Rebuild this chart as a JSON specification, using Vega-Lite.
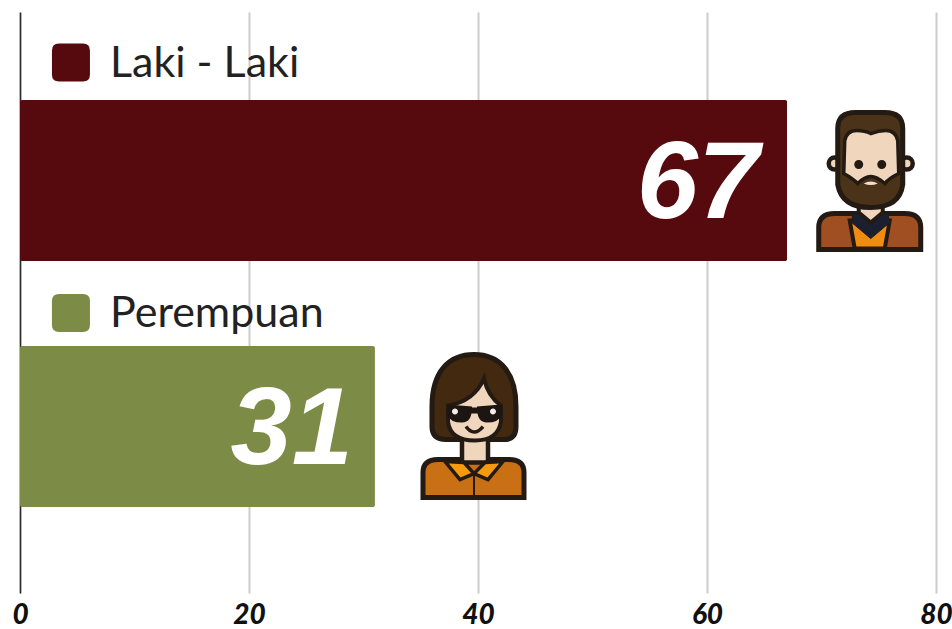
{
"$schema":"https://vega.github.io/schema/vega-lite/v6.json",
"autosize":{"type":"none"},
"padding":{"left":20,"top":12,"right":16,"bottom":36},
"width":916,"height":581,"background":"#ffffff",
"view":{"stroke":null},
"data":{"values":[
{"gender":"Laki - Laki","value":67,"legendX":4.45,"labelX":7.86,"iconX":74.3},
{"gender":"Perempuan","value":31,"legendX":4.45,"labelX":7.86,"iconX":39.65}
]},
"encoding":{"y":{"field":"gender","type":"nominal","title":null,
"scale":{"domain":["Laki - Laki","Perempuan"],"paddingInner":0.3455,"paddingOuter":0.3537,"align":0.506},
"axis":{"labels":false,"ticks":false,"domain":true,"domainColor":"#2a2a2a","domainWidth":1.5,"grid":false,"title":null}}},
"layer":[
{"mark":{"type":"bar","cornerRadius":2},
"encoding":{"x":{"field":"value","type":"quantitative","title":null,
"scale":{"domain":[0,80],"nice":false},
"axis":{"values":[0,20,40,60,80],"grid":true,"gridColor":"#cccccc","gridWidth":2,"domain":false,"ticks":false,"labelFont":"Lato","labelFontSize":28,"labelFontStyle":"italic","labelFontWeight":900,"labelColor":"#111111","labelPadding":8,"labelOverlap":false,"labelFlush":false}},
"color":{"field":"gender","type":"nominal","legend":null,"scale":{"domain":["Laki - Laki","Perempuan"],"range":["#570a0e","#7c8c46"]}}}},
{"transform":[{"filter":"datum.gender==='Laki - Laki'"}],
"layer":[
{"mark":{"type":"text","align":"right","baseline":"middle","dx":-28,"dy":4,"font":"Liberation Sans","fontSize":110,"fontStyle":"italic","fontWeight":"bold","color":"#ffffff"},
"encoding":{"x":{"field":"value","type":"quantitative"},"text":{"field":"value","type":"quantitative"}}},
{"mark":{"type":"point","filled":true,"opacity":1,"size":4,"yOffset":-118,"fill":"#570a0e","shape":"M-19,-12 Q-19,-19 -12,-19 L12,-19 Q19,-19 19,-12 L19,12 Q19,19 12,19 L-12,19 Q-19,19 -19,12 Z"},"encoding":{"x":{"field":"legendX","type":"quantitative"}}},
{"mark":{"type":"text","align":"left","baseline":"middle","dy":-117,"font":"Lato","fontSize":43,"color":"#222222"},"encoding":{"x":{"field":"labelX","type":"quantitative"},"text":{"field":"gender"}}},
{"mark":{"type":"point","filled":true,"opacity":1,"size":4,"fill":"#f0d6bd","stroke":"#231a14","strokeWidth":4.5,"shape":"M-42,-17 A6,6 0 1 1 -30,-17 A6,6 0 1 1 -42,-17 Z M30,-17 A6,6 0 1 1 42,-17 A6,6 0 1 1 30,-17 Z"},"encoding":{"x":{"field":"iconX","type":"quantitative"}}},
{"mark":{"type":"point","filled":true,"opacity":1,"size":4,"fill":"#a04f22","stroke":"#231a14","strokeWidth":5,"shape":"M-52,69 L-52,47 Q-52,33 -36,33 L34,33 Q50,33 50,47 L50,69 Z"},"encoding":{"x":{"field":"iconX","type":"quantitative"}}},
{"mark":{"type":"point","filled":true,"opacity":1,"size":4,"fill":"#f08c10","stroke":"#231a14","strokeWidth":4,"shape":"M-21,40 L19,40 L14,68 L-16,68 Z"},"encoding":{"x":{"field":"iconX","type":"quantitative"}}},
{"mark":{"type":"point","filled":true,"opacity":1,"size":4,"fill":"#1a2030","stroke":"#231a14","strokeWidth":1,"shape":"M-18,33 L17,33 L19,42 L0,58 L-19,42 Z"},"encoding":{"x":{"field":"iconX","type":"quantitative"}}},
{"mark":{"type":"point","filled":true,"opacity":1,"size":4,"fill":"#f0d6bd","stroke":"#231a14","strokeWidth":4,"shape":"M-12,22 L12,22 L12,32 L0,42 L-12,32 Z"},"encoding":{"x":{"field":"iconX","type":"quantitative"}}},
{"mark":{"type":"point","filled":true,"opacity":1,"size":4,"fill":"#4a3318","stroke":"#231a14","strokeWidth":5,"shape":"M-33,-52 Q-33,-68 -15,-68 L14,-68 Q32,-68 32,-52 L32,4 Q29,27 0,27 Q-29,27 -33,4 Z"},"encoding":{"x":{"field":"iconX","type":"quantitative"}}},
{"mark":{"type":"point","filled":true,"opacity":1,"size":4,"fill":"#f0d6bd","stroke":"#231a14","strokeWidth":3.5,"shape":"M-26,-40 Q-24,-50 -14,-50 Q-6,-50 0,-47 Q8,-50 15,-50 Q25,-50 27,-40 L28,-7 Q18,-2 14,3 Q6,-4 0,-4 Q-6,-4 -13,3 Q-18,-2 -27,-7 Z"},"encoding":{"x":{"field":"iconX","type":"quantitative"}}},
{"mark":{"type":"point","filled":true,"opacity":1,"size":4,"fill":"#231a14","shape":"M-16.5,-16 A4.5,4.5 0 1 1 -7.5,-16 A4.5,4.5 0 1 1 -16.5,-16 Z M6.5,-16 A4.5,4.5 0 1 1 15.5,-16 A4.5,4.5 0 1 1 6.5,-16 Z"},"encoding":{"x":{"field":"iconX","type":"quantitative"}}},
{"mark":{"type":"point","filled":true,"opacity":1,"size":4,"fill":"#efe0d0","shape":"M-7,3 Q0,-1 7,3 Q0,6 -7,3 Z"},"encoding":{"x":{"field":"iconX","type":"quantitative"}}}
]},
{"transform":[{"filter":"datum.gender==='Perempuan'"}],
"layer":[
{"mark":{"type":"text","align":"right","baseline":"middle","dx":-22,"dy":4,"font":"Liberation Sans","fontSize":110,"fontStyle":"italic","fontWeight":"bold","color":"#ffffff"},
"encoding":{"x":{"field":"value","type":"quantitative"},"text":{"field":"value","type":"quantitative"}}},
{"mark":{"type":"point","filled":true,"opacity":1,"size":4,"yOffset":-113.5,"fill":"#7c8c46","shape":"M-19,-12 Q-19,-19 -12,-19 L12,-19 Q19,-19 19,-12 L19,12 Q19,19 12,19 L-12,19 Q-19,19 -19,12 Z"},"encoding":{"x":{"field":"legendX","type":"quantitative"}}},
{"mark":{"type":"text","align":"left","baseline":"middle","dy":-113,"font":"Lato","fontSize":43,"color":"#222222"},"encoding":{"x":{"field":"labelX","type":"quantitative"},"text":{"field":"gender"}}},
{"mark":{"type":"point","filled":true,"opacity":1,"size":4,"fill":"#43290f","stroke":"#231a14","strokeWidth":5,"shape":"M-42,-20 C-42,-55 -25,-72 0,-72 C25,-72 42,-55 42,-20 L42,0 Q42,13 30,13 L-28,13 Q-42,13 -42,0 Z"},"encoding":{"x":{"field":"iconX","type":"quantitative"}}},
{"mark":{"type":"point","filled":true,"opacity":1,"size":4,"fill":"#c96f14","stroke":"#231a14","strokeWidth":5,"shape":"M-51,71 L-51,46 Q-51,33 -36,33 L35,33 Q50,33 50,46 L50,71 Z"},"encoding":{"x":{"field":"iconX","type":"quantitative"}}},
{"mark":{"type":"point","filled":true,"opacity":1,"size":4,"fill":"#f0d6bd","stroke":"#231a14","strokeWidth":4.5,"shape":"M-12,12 L14,12 L14,36 L-12,36 Z"},"encoding":{"x":{"field":"iconX","type":"quantitative"}}},
{"mark":{"type":"point","filled":true,"opacity":1,"size":4,"fill":"#f59a0c","stroke":"#231a14","strokeWidth":3.5,"shape":"M-29,35 L-10,36 L0,47 L-14,53 Z M29,35 L11,36 L0,47 L14,53 Z"},"encoding":{"x":{"field":"iconX","type":"quantitative"}}},
{"mark":{"type":"point","filled":true,"opacity":1,"size":4,"fill":"#231a14","stroke":"#231a14","strokeWidth":2,"shape":"M0,47 L0,71 Z"},"encoding":{"x":{"field":"iconX","type":"quantitative"}}},
{"mark":{"type":"point","filled":true,"opacity":1,"size":4,"fill":"#f0d6bd","stroke":"#231a14","strokeWidth":4,"shape":"M-26,-21 Q0,-25 10,-48 Q14,-30 27,-21 L27,-5 Q24,14 1,14 Q-24,14 -26,-5 Z"},"encoding":{"x":{"field":"iconX","type":"quantitative"}}},
{"mark":{"type":"point","filled":true,"opacity":1,"size":4,"fill":"#1c1511","stroke":"#1c1511","strokeWidth":2,"shape":"M-26,-21 L-3,-19 Q-3,-5 -12,-5 Q-23,-5 -26,-12 Z M27,-21 L4,-19 Q4,-5 13,-5 Q24,-5 27,-12 Z M-3,-18 L4,-18 L4,-14 L-3,-14 Z"},"encoding":{"x":{"field":"iconX","type":"quantitative"}}},
{"mark":{"type":"point","filled":true,"opacity":1,"size":4,"fill":"#f3efe8","shape":"M-22,-15 A3,3 0 1 1 -16,-15 A3,3 0 1 1 -22,-15 Z M16,-15 A3,3 0 1 1 22,-15 A3,3 0 1 1 16,-15 Z"},"encoding":{"x":{"field":"iconX","type":"quantitative"}}},
{"mark":{"type":"point","filled":false,"opacity":1,"size":4,"stroke":"#231a14","strokeWidth":3.5,"fill":"transparent","shape":"M-8,0 Q0,11 9,0"},"encoding":{"x":{"field":"iconX","type":"quantitative"}}}
]}
]
}
